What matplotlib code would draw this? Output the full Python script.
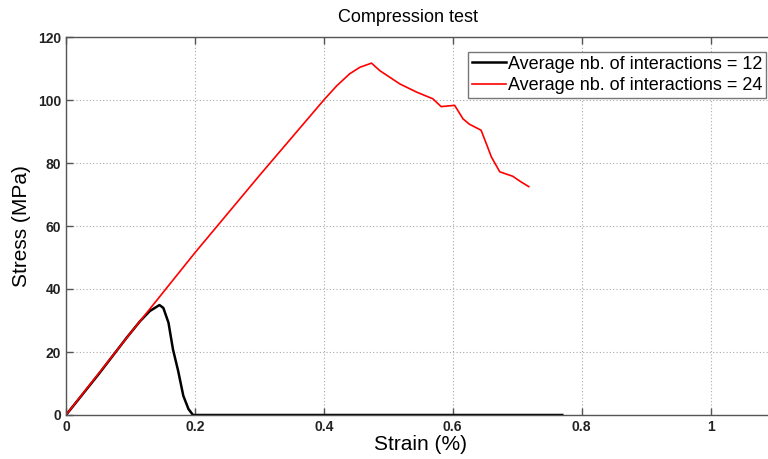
import matplotlib
matplotlib.use("Agg")
import matplotlib.pyplot as plt

plt.rcParams["font.family"] = ["Liberation Sans", "DejaVu Sans"]

# strain (%) / stress (MPa)
strain_12 = [0.0, 0.05, 0.094, 0.115, 0.13, 0.145, 0.151, 0.159, 0.166,
             0.174, 0.182, 0.19, 0.197, 0.77]
stress_12 = [0.0, 12.8, 24.5, 29.8, 33.0, 34.9, 34.0, 29.3, 20.8,
             14.0, 6.1, 1.9, 0.0, 0.0]

strain_24 = [0.0, 0.1, 0.2, 0.3, 0.4, 0.42, 0.44, 0.456, 0.474, 0.487,
             0.518, 0.544, 0.569, 0.582, 0.603, 0.616, 0.626, 0.644, 0.652,
             0.66, 0.673, 0.693, 0.706, 0.718]
stress_24 = [0.0, 26.0, 51.5, 76.0, 100.0, 104.5, 108.3, 110.4, 111.7, 109.3,
             105.1, 102.5, 100.4, 97.9, 98.3, 94.0, 92.3, 90.4, 86.2,
             81.9, 77.2, 75.8, 74.0, 72.5]

labels = ["Average nb. of interactions = 12", "Average nb. of interactions = 24"]

fig = plt.figure(figsize=(7.68, 4.59), dpi=100)
# axes run slightly past the right edge of the picture, as in the reference
ax = fig.add_axes([66 / 768, 44 / 459, 709 / 768, 378 / 459])

ax.plot(strain_12, stress_12, color="black", lw=1.8, label=labels[0])
ax.plot(strain_24, stress_24, color="red", lw=1.2, label=labels[1])

ax.set_xlim(0, 1.1)
ax.set_ylim(0, 120)
ax.set_xticks([0, 0.2, 0.4, 0.6, 0.8, 1])
ax.set_xticklabels(["0", "0.2", "0.4", "0.6", "0.8", "1"])
ax.set_yticks(range(0, 121, 20))

ax.grid(True, color="#aaaaaa", linestyle=(0, (1, 2)), lw=0.8)
for s in ax.spines.values():
    s.set_color("#555555")
    s.set_linewidth(1.0)
ax.spines["right"].set_visible(False)
ax.tick_params(direction="in", top=True, right=False, length=5, width=1,
               color="#555555", labelsize=10, labelcolor="#222222")
for t in ax.get_xticklabels() + ax.get_yticklabels():
    t.set_fontweight("bold")

ax.set_xlabel("Strain (%)", fontsize=15, labelpad=1)
ax.set_ylabel("Stress (MPa)", fontsize=15, labelpad=5)
fig.text(408 / 768, 1 - 18 / 459, "Compression test", fontsize=13,
         ha="center", va="center")

leg = ax.legend(loc="upper right", bbox_to_anchor=(766 / 768, 1 - 52 / 459),
                bbox_transform=fig.transFigure, fontsize=13, fancybox=False,
                handlelength=1.9, handletextpad=0.1, borderpad=0.2,
                labelspacing=0.25, borderaxespad=0)
leg.get_frame().set_edgecolor("#555555")
leg.get_frame().set_linewidth(1.0)

fig.savefig("out.png", dpi=100)
